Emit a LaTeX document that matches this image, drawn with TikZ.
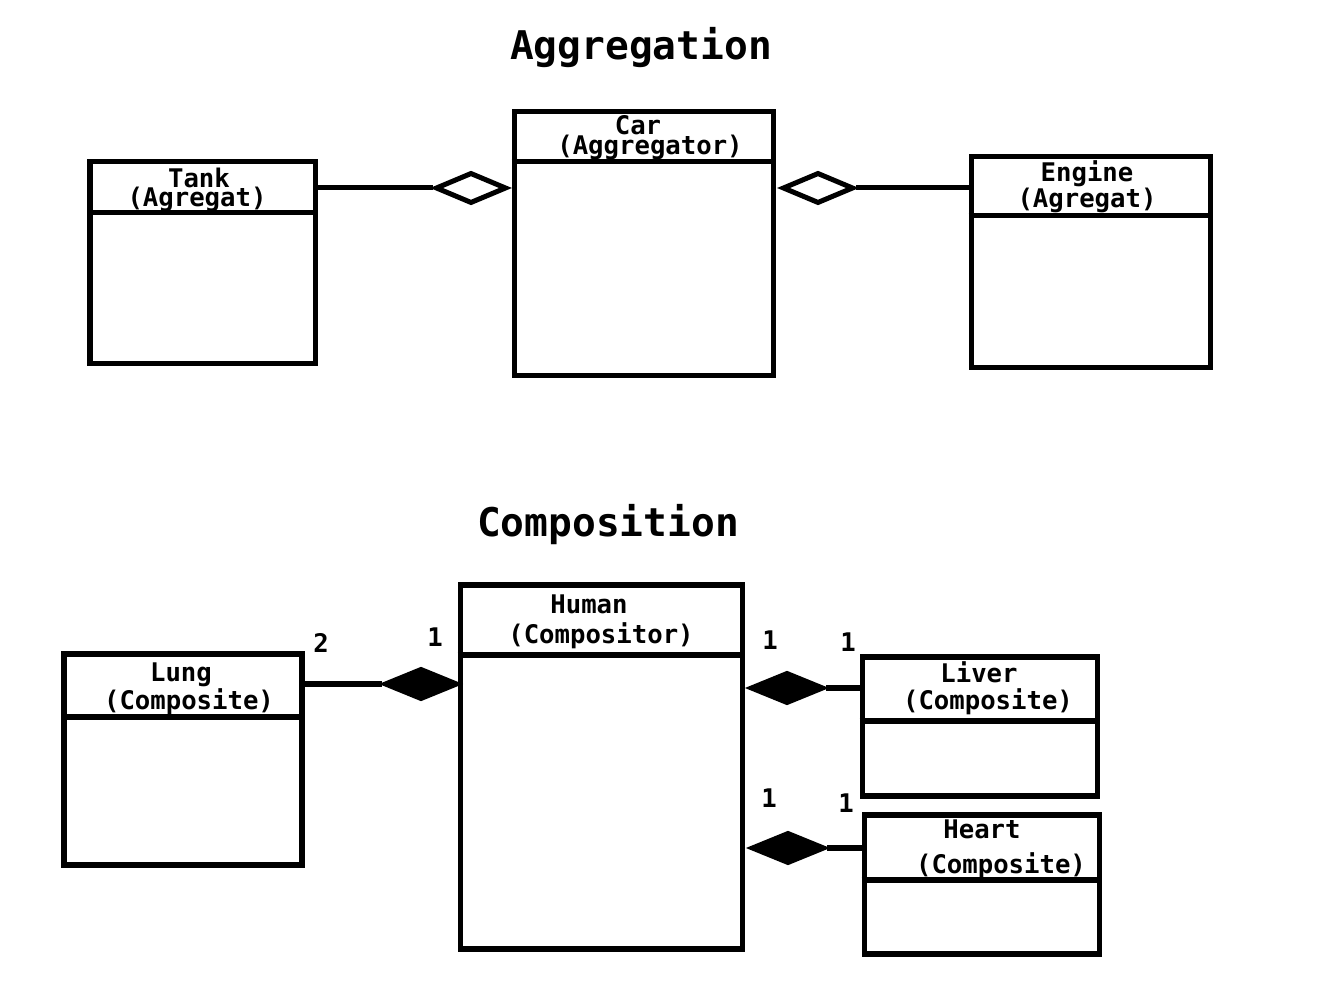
\documentclass[tikz,border=0pt]{standalone}
\usepackage{fontspec}
\newfontfamily\umlfont{DejaVu Sans Mono}
\usetikzlibrary{shapes.geometric,fit}
\tikzset{
    box/.style={draw, line width=2.85pt, inner sep=0pt},
    line/.style={line width=2.85pt},
    txt/.style={anchor=base, inner sep=0pt, font=\umlfont\bfseries\fontsize{14.6}{16}\selectfont},
    heading/.style={anchor=base, inner sep=0pt, font=\umlfont\bfseries\fontsize{22.5}{26}\selectfont},
    agg/.style={diamond, draw, line width=2.85pt, fill=white, inner sep=0pt,
        minimum width=1.42cm, minimum height=0.62cm},
    comp/.style={agg, fill=black, minimum width=1.46cm, minimum height=0.62cm},
}
\begin{document}
\begin{tikzpicture}[x=0.02cm, y=-0.02cm]
    \useasboundingbox (0, 0) rectangle (1332, 982);
    % aggregation
    \node[heading] (aggtitle) at (641, 60) {Aggregation};
    \node[box, fit={(90, 162) (315, 364)}] (tank) {};
    \draw[line] (tank.west |- 0, 213) -- (tank.east |- 0, 213);
    \node[txt] (tankname) at (199, 188) {Tank};
    \node[txt] (tankrole) at (197, 207) {(Agregat)};
    \node[box, fit={(514, 112) (773, 376)}] (car) {};
    \draw[line] (car.west |- 0, 162) -- (car.east |- 0, 162);
    \node[txt] (carname) at (638, 135) {Car};
    \node[txt] (carrole) at (650, 155) {(Aggregator)};
    \node[box, fit={(971, 157) (1210, 368)}] (engine) {};
    \draw[line] (engine.west |- 0, 216) -- (engine.east |- 0, 216);
    \node[txt] (enginename) at (1087, 182) {Engine};
    \node[txt] (enginerole) at (1087, 208) {(Agregat)};
    \node[agg] (tankdia) at (471, 188) {};
    \node[agg] (enginedia) at (818, 188) {};
    \draw[line] (tank.east |- tankdia) -- (tankdia.west);
    \draw[line] (enginedia.east) -- (engine.west |- enginedia);
    % composition
    \node[heading] (comptitle) at (608, 537) {Composition};
    \node[box, fit={(64, 654) (302, 865)}] (lung) {};
    \draw[line] (lung.west |- 0, 717) -- (lung.east |- 0, 717);
    \node[txt] (lungname) at (181, 682) {Lung};
    \node[txt] (lungrole) at (189, 709) {(Composite)};
    \node[box, fit={(460, 585) (742, 949)}] (human) {};
    \draw[line] (human.west |- 0, 655) -- (human.east |- 0, 655);
    \node[txt] (humanname) at (589, 614) {Human};
    \node[txt] (humanrole) at (601, 644) {(Compositor)};
    \node[box, fit={(862, 657) (1097, 796)}] (liver) {};
    \draw[line] (liver.west |- 0, 721) -- (liver.east |- 0, 721);
    \node[txt] (livername) at (979, 683) {Liver};
    \node[txt] (liverrole) at (988, 709) {(Composite)};
    \node[box, fit={(864, 815) (1099, 954)}] (heart) {};
    \draw[line] (heart.west |- 0, 880) -- (heart.east |- 0, 880);
    \node[txt] (heartname) at (982, 838) {Heart};
    \node[txt] (heartrole) at (1001, 873) {(Composite)};
    \node[comp] (lungdia) at (421, 684) {};
    \node[comp] (liverdia) at (787, 688) {};
    \node[comp] (heartdia) at (788, 848) {};
    \draw[line] (lung.east |- lungdia) -- (lungdia.west);
    \draw[line] (liverdia.east) -- (liver.west |- liverdia);
    \draw[line] (heartdia.east) -- (heart.west |- heartdia);
    % multiplicities
    \node[txt] (lungmult) at (321, 653) {2};
    \node[txt] (humanlung) at (435, 647) {1};
    \node[txt] (humanliver) at (770, 650) {1};
    \node[txt] (livermult) at (848, 652) {1};
    \node[txt] (humanheart) at (769, 807) {1};
    \node[txt] (heartmult) at (846, 812) {1};
\end{tikzpicture}
\end{document}
